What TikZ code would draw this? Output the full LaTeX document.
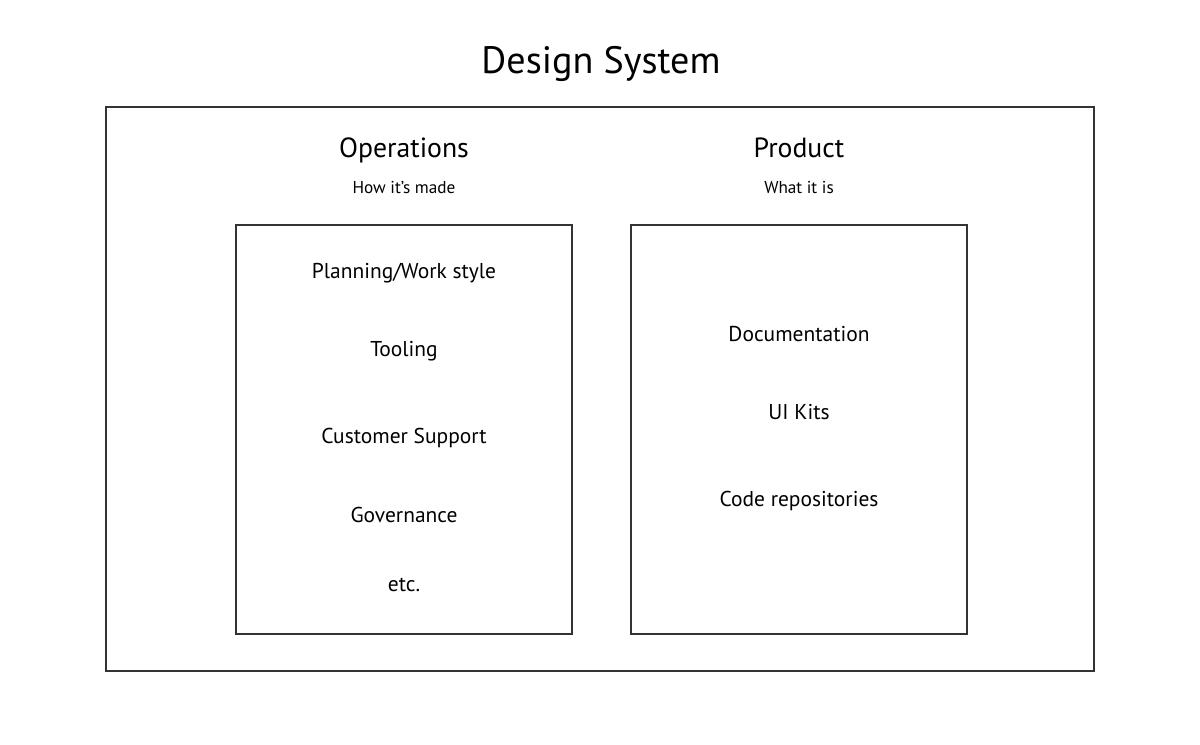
\documentclass[tikz,border=0pt]{standalone}
\usepackage{fontspec}
\setmainfont{PT Sans}
\begin{document}
\begin{tikzpicture}[x=0.75pt,y=-0.75pt,
  frame/.style={draw=black!80,line width=0.8pt},
  title/.style={anchor=base,font=\fontsize{28.6}{32}\selectfont},
  head/.style={anchor=base,font=\fontsize{20.8}{24}\selectfont},
  sub/.style={anchor=base,font=\fontsize{12.9}{15}\selectfont},
  item/.style={anchor=base,font=\fontsize{16.1}{19}\selectfont}]
\useasboundingbox (0,0) rectangle (1200,744);
\draw[frame] (106,107) rectangle (1094,671);
\node[frame,minimum width=336*0.75pt,minimum height=409*0.75pt,inner sep=0pt] (ops) at (404,429.5) {};
\node[frame,minimum width=336*0.75pt,minimum height=409*0.75pt,inner sep=0pt] (prod) at (799,429.5) {};
\node[title] (t) at (601,73) {Design System};
\node[head] (oh) at (404,157) {Operations};
\node[sub] (os) at (404,193) {How it’s made};
\node[head] (ph) at (799,157) {Product};
\node[sub] (ps) at (799,193) {What it is};
\node[item] (o1) at (404,278) {Planning/Work style};
\node[item] (o2) at (404,356) {Tooling};
\node[item] (o3) at (404,443) {Customer Support};
\node[item] (o4) at (404,522) {Governance};
\node[item] (o5) at (404,591) {etc.};
\node[item] (p1) at (799,341) {Documentation};
\node[item] (p2) at (799,419) {UI Kits};
\node[item] (p3) at (799,506) {Code repositories};
\end{tikzpicture}
\end{document}
